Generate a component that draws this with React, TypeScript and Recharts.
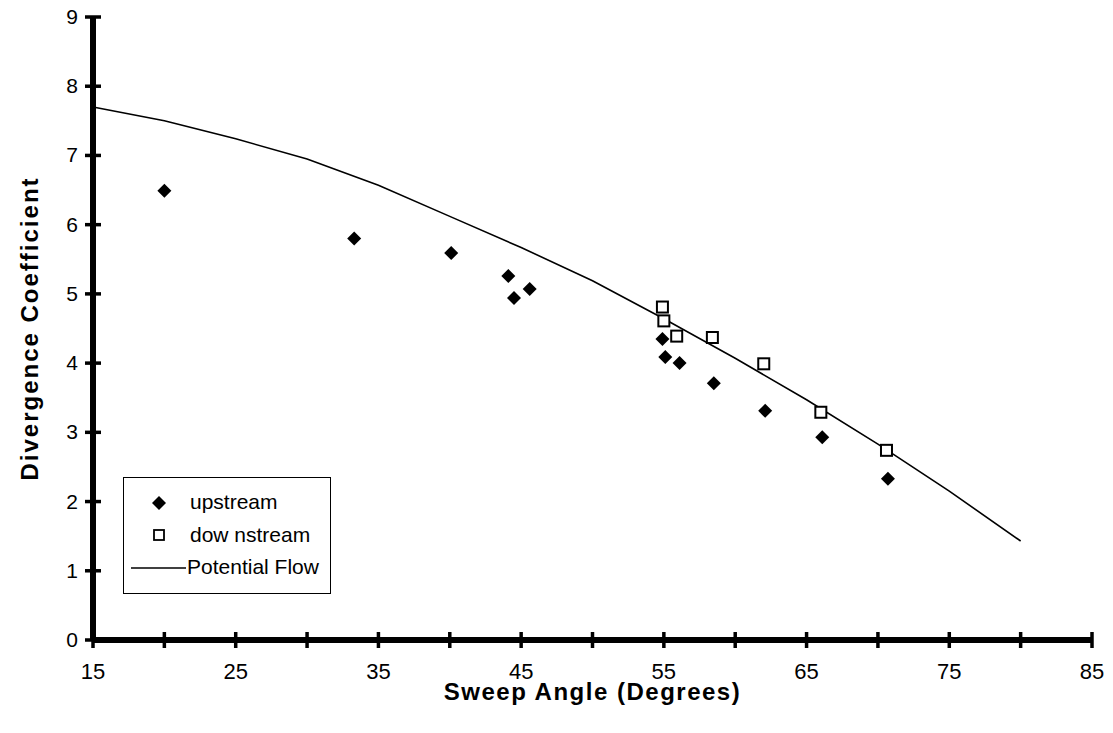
import React from "react";
import {
  ReferenceLine,
  Scatter,
  ScatterChart,
  XAxis,
  YAxis,
} from "recharts";

const FONT = '"Liberation Sans", Arial, Helvetica, sans-serif';

// sweep angle (deg) / divergence coefficient
const upstreamAngle = [20.0, 33.3, 40.1, 44.1, 44.5, 45.6, 54.9, 55.1, 56.1, 58.5, 62.1, 66.1, 70.7];
const upstreamCoef = [6.49, 5.8, 5.59, 5.26, 4.94, 5.07, 4.35, 4.09, 4.0, 3.71, 3.31, 2.93, 2.33];

const downstreamAngle = [54.9, 55.0, 55.9, 58.4, 62.0, 66.0, 70.6];
const downstreamCoef = [4.81, 4.61, 4.39, 4.37, 3.99, 3.29, 2.74];

const flowAngle = [15, 20, 25, 30, 35, 40, 45, 50, 55, 60, 65, 70, 75, 80];
const flowCoef = [7.7, 7.5, 7.24, 6.95, 6.57, 6.12, 5.67, 5.19, 4.64, 4.07, 3.47, 2.83, 2.15, 1.43];

const xTicks = [15, 20, 25, 30, 35, 40, 45, 50, 55, 60, 65, 70, 75, 80, 85];
const yTicks = [0, 1, 2, 3, 4, 5, 6, 7, 8, 9];

const zip = (xs: number[], ys: number[]) => xs.map((x, i) => ({ x, y: ys[i] }));

const upstream = zip(upstreamAngle, upstreamCoef);
const downstream = zip(downstreamAngle, downstreamCoef);
const potentialFlow = zip(flowAngle, flowCoef);

const Diamond = (props: any) => {
  const { cx, cy } = props;
  if (cx == null || cy == null) return <g />;
  const r = 7;
  return (
    <polygon
      points={`${cx},${cy - r} ${cx + r},${cy} ${cx},${cy + r} ${cx - r},${cy}`}
      fill="#000"
    />
  );
};

const Square = (props: any) => {
  const { cx, cy } = props;
  if (cx == null || cy == null) return <g />;
  return (
    <rect x={cx - 5.5} y={cy - 5.5} width={11} height={11} fill="#fff" stroke="#000" strokeWidth={2} />
  );
};

const NoDot = () => <g />;

// ticks cross the axis line, labels only on every other x tick
const renderXTick = (props: any) => {
  const x = Number(props.x);
  const y = Number(props.y);
  const v = Number(props.payload.value);
  const showLabel = (v - 15) % 10 === 0;
  return (
    <g key={`xt-${v}`}>
      <path d={`M${x},${y - 8}L${x},${y + 8}`} stroke="#000" strokeWidth={3.5} fill="none" />
      {showLabel && (
        <text x={x} y={y + 39} textAnchor="middle" fontSize={22} fontFamily={FONT} fill="#000">
          {v}
        </text>
      )}
    </g>
  );
};

const renderYTick = (props: any) => {
  const x = Number(props.x);
  const y = Number(props.y);
  const v = Number(props.payload.value);
  return (
    <g key={`yt-${v}`}>
      <path d={`M${x - 8},${y}L${x + 8},${y}`} stroke="#000" strokeWidth={3.5} fill="none" />
      <text x={x - 15} y={y + 7} textAnchor="end" fontSize={21} fontFamily={FONT} fill="#000">
        {v}
      </text>
    </g>
  );
};

const XTitle = (props: any) => {
  const { viewBox } = props;
  const cx = viewBox.x + viewBox.width / 2;
  return (
    <text
      x={cx}
      y={viewBox.y + 60}
      textAnchor="middle"
      fontSize={24}
      fontWeight="bold"
      fontFamily={FONT}
      letterSpacing={1.5}
      fill="#000"
    >
      Sweep Angle (Degrees)
    </text>
  );
};

const YTitle = (props: any) => {
  const { viewBox } = props;
  const cy = viewBox.y + viewBox.height / 2;
  const x = 30;
  return (
    <text
      x={x}
      y={cy}
      transform={`rotate(-90, ${x}, ${cy})`}
      textAnchor="middle"
      fontSize={24}
      fontWeight="bold"
      fontFamily={FONT}
      letterSpacing={2}
      fill="#000"
    >
      Divergence Coefficient
    </text>
  );
};

const LegendBox = () => {
  const rowStyle: React.CSSProperties = {
    position: "absolute",
    left: 66,
    fontSize: 21,
    fontFamily: FONT,
    color: "#000",
    lineHeight: "22px",
    whiteSpace: "nowrap",
  };
  return (
    <div
      style={{
        position: "absolute",
        left: 115,
        top: 469,
        width: 206,
        height: 115,
        border: "1.5px solid #000",
        background: "#fff",
      }}
    >
      <svg width={206} height={115} style={{ position: "absolute", left: 0, top: 0 }}>
        <polygon points="35,18 42,25 35,32 28,25" fill="#000" />
        <rect x={30} y={52} width={10} height={10} fill="#fff" stroke="#000" strokeWidth={1.8} />
        <line x1={7} y1={90} x2={62} y2={90} stroke="#000" strokeWidth={1.5} />
      </svg>
      <span style={{ ...rowStyle, top: 13 }}>upstream</span>
      <span style={{ ...rowStyle, top: 46 }}>dow nstream</span>
      <span style={{ ...rowStyle, top: 78, left: 63 }}>Potential Flow</span>
    </div>
  );
};

export default function App() {
  return (
    <div style={{ position: "relative", width: 1097, height: 717, background: "#fff" }}>
      <ScatterChart
        width={1097}
        height={717}
        margin={{ top: 9, right: 13, left: 0, bottom: 0 }}
      >
        <XAxis
          type="number"
          dataKey="x"
          domain={[15, 85]}
          ticks={xTicks}
          interval={0}
          height={85}
          tickSize={0}
          tickMargin={0}
          tickLine={false}
          axisLine={{ stroke: "#000", strokeWidth: 6 }}
          tick={renderXTick}
          label={{ content: <XTitle /> }}
        />
        <YAxis
          type="number"
          dataKey="y"
          domain={[0, 9]}
          ticks={yTicks}
          interval={0}
          width={85}
          tickSize={0}
          tickMargin={0}
          tickLine={false}
          axisLine={{ stroke: "#000", strokeWidth: 6 }}
          tick={renderYTick}
          label={{ content: <YTitle /> }}
        />
        {/* heavy axis lines, as in the printed figure */}
        <ReferenceLine y={0} stroke="#000" strokeWidth={6} />
        <ReferenceLine x={15} stroke="#000" strokeWidth={6} />
        <Scatter
          name="Potential Flow"
          data={potentialFlow}
          line={{ stroke: "#000", strokeWidth: 1.6 }}
          lineType="joint"
          shape={<NoDot />}
          isAnimationActive={false}
        />
        <Scatter
          name="upstream"
          data={upstream}
          shape={<Diamond />}
          isAnimationActive={false}
        />
        <Scatter
          name="downstream"
          data={downstream}
          shape={<Square />}
          isAnimationActive={false}
        />
      </ScatterChart>
      <LegendBox />
    </div>
  );
}
